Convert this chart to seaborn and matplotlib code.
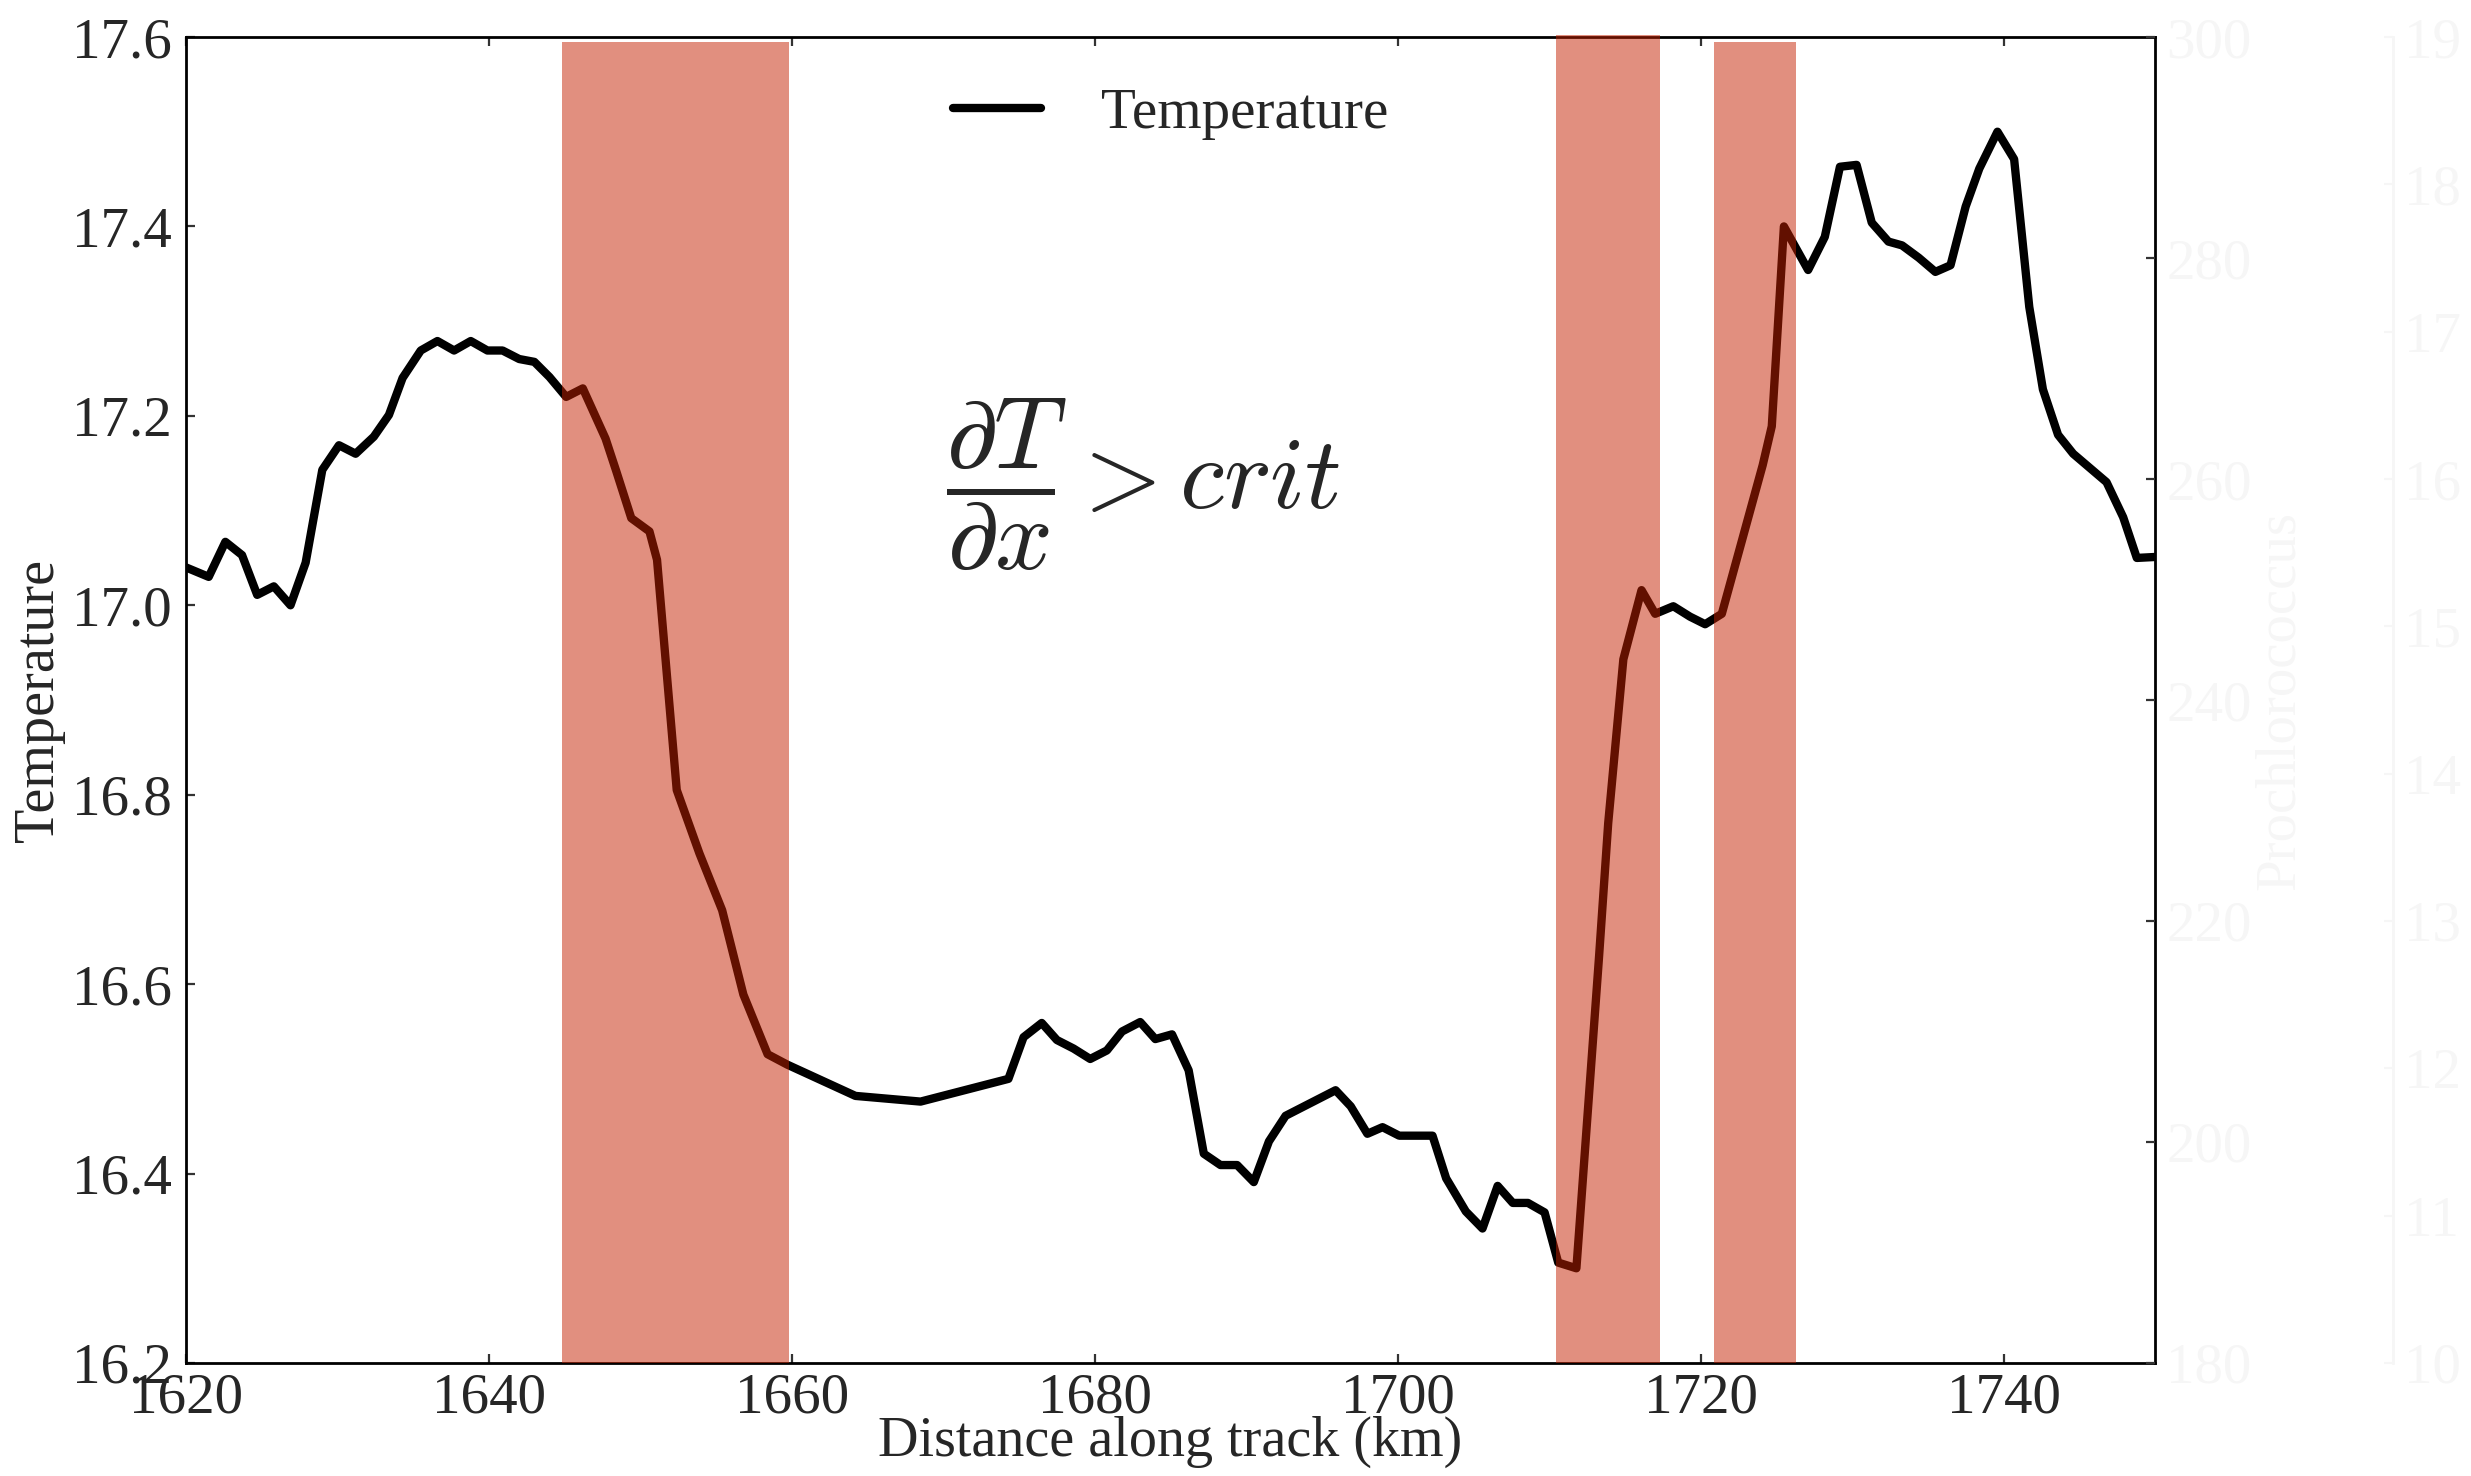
import numpy as np
import pandas as pd
import matplotlib
matplotlib.use("Agg")
import matplotlib.pyplot as plt
import seaborn as sns

# ---------------- data ----------------
distance_km = [
    1620.0, 1621.5, 1622.6, 1623.7, 1624.7, 1625.8, 1626.9, 1627.9, 1629.0, 1630.1,
    1631.2, 1632.4, 1633.4, 1634.3, 1635.5, 1636.6, 1637.7, 1638.8, 1639.9, 1640.9,
    1642.0, 1643.0, 1644.0, 1645.1, 1646.2, 1647.7, 1648.4, 1649.4, 1650.6, 1651.1,
    1652.4, 1653.9, 1655.4, 1656.8, 1658.4, 1659.7, 1664.2, 1668.5, 1674.3, 1675.3,
    1676.5, 1677.5, 1678.6, 1679.7, 1680.8, 1681.8, 1683.0, 1684.0, 1685.1, 1686.2,
    1687.2, 1688.3, 1689.4, 1690.5, 1691.5, 1692.6, 1693.7, 1694.8, 1695.9, 1696.9,
    1698.0, 1699.0, 1700.1, 1701.2, 1702.3, 1703.2, 1704.5, 1705.6, 1706.6, 1707.6,
    1708.6, 1709.7, 1710.6, 1711.8, 1713.3, 1713.9, 1714.9, 1716.1, 1717.0, 1718.2,
    1719.3, 1720.3, 1721.4, 1724.1, 1724.7, 1725.5, 1727.1, 1728.2, 1729.2, 1730.3,
    1731.3, 1732.4, 1733.3, 1734.4, 1735.5, 1736.5, 1737.5, 1738.4, 1739.6, 1740.7,
    1741.7, 1742.6, 1743.6, 1744.6, 1745.7, 1746.8, 1747.9, 1748.8, 1750.0,
]
temperature = [
    17.040, 17.030, 17.067, 17.053, 17.011, 17.020, 17.000, 17.045, 17.143, 17.169,
    17.160, 17.178, 17.201, 17.240, 17.269, 17.279, 17.269, 17.279, 17.269, 17.269,
    17.260, 17.257, 17.241, 17.220, 17.229, 17.176, 17.142, 17.092, 17.078, 17.048,
    16.805, 16.738, 16.678, 16.589, 16.526, 16.515, 16.482, 16.476, 16.500, 16.544,
    16.559, 16.541, 16.532, 16.521, 16.530, 16.550, 16.560, 16.542, 16.547, 16.509,
    16.421, 16.409, 16.409, 16.391, 16.434, 16.461, 16.470, 16.479, 16.488, 16.471,
    16.442, 16.449, 16.440, 16.440, 16.440, 16.395, 16.360, 16.342, 16.387, 16.369,
    16.369, 16.359, 16.306, 16.300, 16.630, 16.770, 16.943, 17.016, 16.991, 16.999,
    16.988, 16.980, 16.991, 17.148, 17.189, 17.400, 17.354, 17.389, 17.463, 17.465,
    17.404, 17.384, 17.380, 17.367, 17.352, 17.359, 17.421, 17.461, 17.500, 17.471,
    17.315, 17.228, 17.180, 17.160, 17.145, 17.130, 17.093, 17.050, 17.051,
]

# front regions where dT/dx > crit
span_start = [1644.8, 1710.45, 1720.9]
span_end = [1659.8, 1717.3, 1726.3]
span_top = [17.595, 17.602, 17.595]

x_ticks = [1620, 1640, 1660, 1680, 1700, 1720, 1740]
temp_ticks = [16.2, 16.4, 16.6, 16.8, 17.0, 17.2, 17.4, 17.6]
pro_ticks = [180, 200, 220, 240, 260, 280, 300]
third_ticks = [10, 11, 12, 13, 14, 15, 16, 17, 18, 19]

df = pd.DataFrame({"Distance along track (km)": distance_km, "Temperature": temperature})

# ---------------- style ----------------
sns.set_style("white")
plt.rcParams["font.family"] = ["Liberation Serif", "DejaVu Serif"]
plt.rcParams["mathtext.fontset"] = "cm"
plt.rcParams["axes.linewidth"] = 1.0

FS = 20.5
FAINT = "#f6f6f6"
SPAN_COLOR = "#c52100"

fig = plt.figure(figsize=(12.355, 7.38), dpi=200)
fig.patch.set_facecolor("white")
ax = fig.add_axes([0.07527, 0.07656, 0.79684, 0.89837])

sns.lineplot(data=df, x="Distance along track (km)", y="Temperature", ax=ax,
             color="black", linewidth=3, label="Temperature", estimator=None,
             sort=False, zorder=2)

ymin, ymax = 16.2, 17.6
for s, e, t in zip(span_start, span_end, span_top):
    ax.axvspan(s, e, ymin=0, ymax=(t - ymin) / (ymax - ymin), color=SPAN_COLOR,
               alpha=0.5, lw=0, zorder=3, clip_on=False)

ax.set_xlim(1620, 1750)
ax.set_ylim(ymin, ymax)
ax.set_xticks(x_ticks)
ax.set_yticks(temp_ticks)
ax.set_xticklabels([str(v) for v in x_ticks])
ax.set_yticklabels([f"{v:.1f}" for v in temp_ticks])
ax.tick_params(axis="both", which="major", direction="in", length=3.4, width=0.8,
               labelsize=FS, color="#333333")
ax.tick_params(axis="x", top=True, bottom=True, pad=3.6)
ax.tick_params(axis="y", left=True, right=False, pad=5)
for sp in ax.spines.values():
    sp.set_visible(True)
    sp.set_color("black")
    sp.set_linewidth(1.0)

ax.set_xlabel("Distance along track (km)", fontsize=20.2)
ax.set_ylabel("Temperature", fontsize=20.2)
ax.xaxis.set_label_coords(0.5, -0.0596)
ax.yaxis.set_label_coords(-0.0747, 0.5)
ax.yaxis.label.set(va="center", ha="center", rotation_mode="anchor")
ax.xaxis.label.set(va="center")

ax.text(1670.2, 17.128, r"$\dfrac{\partial T}{\partial x} > crit$", fontsize=36.5,
        ha="left", va="center", zorder=5)

leg = ax.legend(loc="upper center", frameon=False, fontsize=FS, handlelength=1.55,
                handletextpad=1.05)
for h in leg.get_lines():
    h.set_linewidth(3)

# ---------------- faint twin axes ----------------
ax1 = ax.twinx()
ax1.set_ylim(180, 300)
ax1.set_yticks(pro_ticks)
ax1.tick_params(axis="y", direction="in", length=3.4, width=0.8, color="#333333",
                labelcolor=FAINT, labelsize=FS, pad=4)
for side in ["left", "top", "bottom", "right"]:
    ax1.spines[side].set_visible(False)
ax1.set_ylabel("Prochlorococcus", fontsize=FS, color=FAINT)
ax1.yaxis.set_label_coords(1.0635, 0.5)
ax1.yaxis.label.set(va="center", ha="center", rotation_mode="anchor")

ax2 = ax.twinx()
ax2.spines["right"].set_position(("axes", 1.121))
ax2.set_ylim(10, 19)
ax2.set_yticks(third_ticks)
ax2.tick_params(axis="y", direction="in", length=3.4, width=0.8, color=FAINT,
                labelcolor=FAINT, labelsize=FS, pad=4)
for side in ["left", "top", "bottom"]:
    ax2.spines[side].set_visible(False)
ax2.spines["right"].set_visible(True)
ax2.spines["right"].set_color(FAINT)

fig.savefig("out.png", dpi=200, facecolor="white")
